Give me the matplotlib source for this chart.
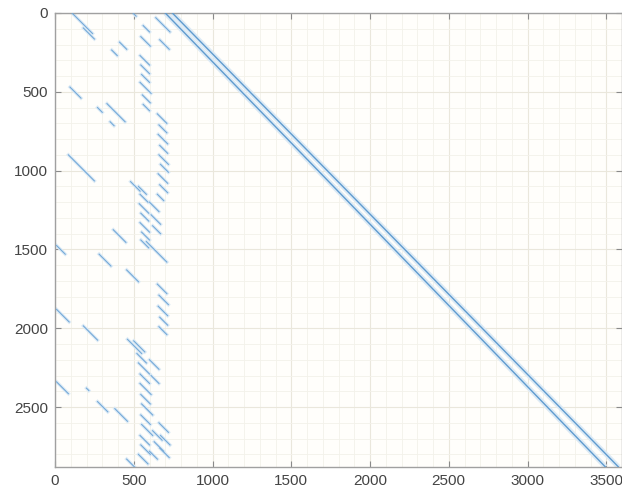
# spy plot of a sparse matrix (pattern)
import matplotlib
matplotlib.use("Agg")
import matplotlib.pyplot as plt
from matplotlib.ticker import MultipleLocator

n_rows = 2880
n_cols = 3600

# two long diagonals: start/end (col, row)
diag_col0 = [700, 745]
diag_col1 = [3495, 3578]

# short diagonal runs: start column, start row, length
seg_col = [108, 180, 360, 410, 495,
           560, 545, 540, 545, 550, 540, 555, 560,
           480, 530, 540, 535, 545, 540, 550, 545, 600, 610, 620,
           500, 520, 530, 540, 540, 545, 550, 545, 550, 540, 545, 530,
           600, 610, 620, 630, 600,
           640, 665,
           650, 660, 655, 665, 660, 670, 655, 665, 650,
           580, 650, 660, 655, 665, 660,
           660, 670, 665,
           95, 270, 330, 350, 85, 370, 280, 455, 10, 180, 460,
           10, 200, 270, 380, 455, 10]
seg_row = [0, 95, 235, 185, 0,
           80, 150, 270, 330, 390, 440, 520, 580,
           1070, 1100, 1150, 1210, 1270, 1330, 1390, 1440, 1200, 1280, 1350,
           2080, 2160, 2220, 2290, 2350, 2420, 2480, 2550, 2610, 2680, 2740, 2800,
           2200, 2300, 2650, 2720, 2780,
           30, 170,
           640, 710, 770, 840, 900, 960, 1020, 1090, 1150,
           1450, 1720, 1790, 1860, 1930, 1990,
           2600, 2680, 2760,
           470, 600, 575, 690, 900, 1375, 1530, 1630, 1880, 1985, 2070,
           2340, 2380, 2465, 2510, 2830, 1475]
seg_len = [130, 70, 35, 45, 20,
           40, 60, 60, 55, 50, 70, 50, 40,
           60, 50, 50, 60, 50, 60, 50, 50, 60, 60, 50,
           70, 60, 70, 60, 70, 60, 70, 60, 70, 60, 60, 60,
           60, 50, 60, 60, 50,
           90, 60,
           60, 50, 60, 50, 60, 50, 60, 50, 40,
           130, 60, 60, 60, 50, 50,
           60, 60, 60,
           70, 30, 115, 25, 165, 80, 75, 75, 80, 90, 90,
           75, 15, 65, 80, 50, 55]

fig = plt.figure(figsize=(6.22, 4.95), dpi=100)
ax = fig.add_axes([55 / 622, 28 / 495, 567 / 622, 454 / 495])
ax.set_facecolor("#fffefb")

halo = "#dceaf5"
core = "#74a9d8"

for c0, c1 in zip(diag_col0, diag_col1):
    ax.plot([c0, c1], [0, n_rows], color=halo, lw=3.6, solid_capstyle="butt", zorder=2)
    ax.plot([c0, c1], [0, n_rows], color="#5f9bcf", lw=1.0, zorder=3)

for c, r, L in zip(seg_col, seg_row, seg_len):
    ax.plot([c, c + L], [r, r + L], color=halo, lw=2.4, zorder=2)
    ax.plot([c, c + L], [r, r + L], color=core, lw=0.8, zorder=3)

ax.set_xlim(0, n_cols)
ax.set_ylim(n_rows, 0)
ax.set_aspect("auto")

ax.xaxis.set_major_locator(MultipleLocator(500))
ax.yaxis.set_major_locator(MultipleLocator(500))
ax.xaxis.set_minor_locator(MultipleLocator(100))
ax.yaxis.set_minor_locator(MultipleLocator(100))
ax.grid(which="major", color="#eae7dc", lw=0.8, zorder=0)
ax.grid(which="minor", color="#f3f1ea", lw=0.6, zorder=0)
ax.set_axisbelow(True)

ax.tick_params(which="major", direction="in", length=4, width=0.8, color="#8a8a8a",
               top=True, right=True, labelsize=11, labelcolor="#444444", pad=5)
ax.tick_params(which="minor", length=0)
for lab in ax.get_xticklabels() + ax.get_yticklabels():
    lab.set_fontfamily("Liberation Sans")
for s in ax.spines.values():
    s.set_color("#a0a0a0")
    s.set_linewidth(1.0)

fig.savefig("out.png", dpi=100)
